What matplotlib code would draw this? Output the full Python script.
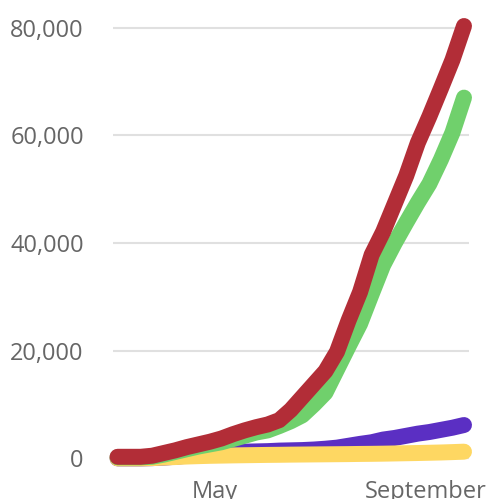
"""Cumulative counts chart"""

import matplotlib

matplotlib.use("Agg")
import matplotlib.pyplot as plt
from matplotlib.ticker import FuncFormatter

# days since 1 March
days = [2, 9, 16, 23, 30, 37, 44, 51, 58, 65, 72, 79, 86, 93, 100, 107,
        114, 121, 128, 135, 142, 149, 156, 163, 170, 177, 184, 191, 198,
        205, 212]

red = [300, 300, 300, 500, 1000, 1500, 2100, 2600, 3100, 3700, 4500,
       5200, 5800, 6300, 7100, 9000, 11400, 13800, 16200, 19800, 25600,
       30900, 37800, 42100, 47300, 52500, 58600, 63500, 68700, 74000, 80300]
green = [200, 200, 200, 300, 700, 1200, 1700, 2200, 2600, 3000, 3600,
         4200, 4800, 5200, 6000, 6900, 8000, 10000, 12200, 16500, 20800,
         25000, 30500, 35900, 40000, 43800, 47500, 51000, 55500, 60500, 67000]
purple = [0, 0, 0, 50, 150, 300, 500, 700, 900, 1050, 1200, 1250, 1300,
          1350, 1450, 1500, 1550, 1650, 1800, 2000, 2350, 2700, 3000, 3500,
          3800, 4200, 4600, 4900, 5300, 5700, 6200]
yellow = [0, 0, 0, 50, 150, 250, 350, 420, 480, 520, 560, 590, 620, 650,
          670, 700, 720, 740, 760, 780, 800, 830, 850, 880, 920, 960, 1000,
          1050, 1100, 1170, 1250]

month_ticks = [61, 189]
month_labels = ["May", "September"]
y_ticks = [0, 20000, 40000, 60000, 80000]

plt.rcParams["font.family"] = ["Open Sans", "DejaVu Sans"]

fig = plt.figure(figsize=(4.89, 4.99), dpi=100)
ax = fig.add_axes([0.231, 0.0581, 0.728, 0.912])

series = [
    (purple, "#5b2fc3"),
    (yellow, "#fed762"),
    (green, "#70d06c"),
    (red, "#b22d37"),
]
for values, color in series:
    ax.plot(days, values, color=color, lw=11.5, solid_capstyle="round",
            solid_joinstyle="round", clip_on=False)

ax.set_xlim(-0.8, 215)
ax.set_ylim(-2155, 82360)
ax.set_yticks(y_ticks)
ax.yaxis.set_major_formatter(FuncFormatter(lambda v, _: f"{v:,.0f}"))
ax.set_xticks(month_ticks)
ax.set_xticklabels(month_labels)

ax.grid(axis="y", color="#e0e0e0", lw=1.5)
ax.set_axisbelow(True)
for spine in ax.spines.values():
    spine.set_visible(False)
ax.tick_params(axis="both", length=0, labelsize=17, colors="#666666")
ax.tick_params(axis="y", pad=21)
ax.tick_params(axis="x", pad=7)

fig.savefig("out.png", dpi=100)
